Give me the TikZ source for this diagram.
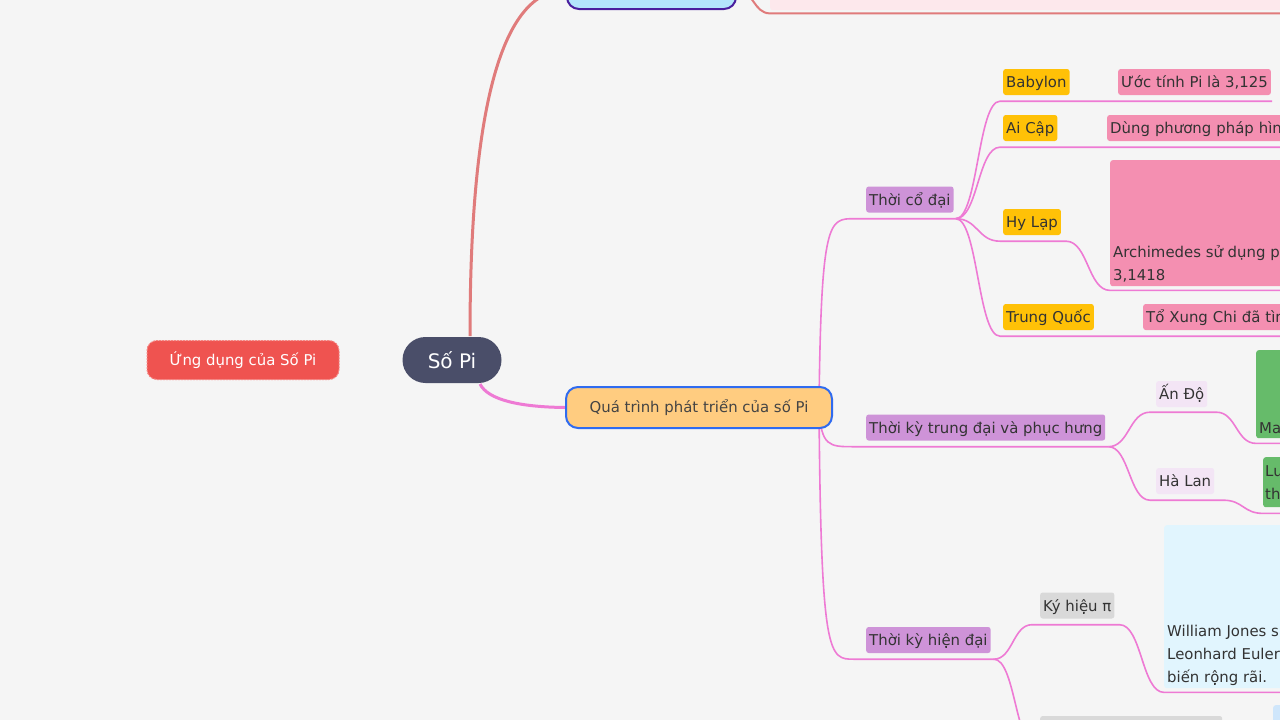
\documentclass[tikz,border=0pt]{standalone}
\usepackage{fontspec}
\setmainfont{DejaVu Sans}
\usetikzlibrary{calc,backgrounds}
\definecolor{canvas}{HTML}{F5F5F5}
\definecolor{rootbg}{HTML}{4A4E69}
\definecolor{appbg}{HTML}{EF5350}
\definecolor{appline}{HTML}{F58582}
\definecolor{histbg}{HTML}{FFCC80}
\definecolor{histline}{HTML}{2F6BF0}
\definecolor{histink}{HTML}{444444}
\definecolor{introbg}{HTML}{B3E5FC}
\definecolor{introline}{HTML}{4A1F9E}
\definecolor{introleaf}{HTML}{FDE8EC}
\definecolor{redline}{HTML}{E07B7B}
\definecolor{pinkline}{HTML}{EE7AD4}
\definecolor{erabg}{HTML}{CE93D8}
\definecolor{placebg}{HTML}{FFC107}
\definecolor{factbg}{HTML}{F48FB1}
\definecolor{lilacbg}{HTML}{F3E5F5}
\definecolor{greenbg}{HTML}{66BB6A}
\definecolor{greybg}{HTML}{D9D9D9}
\definecolor{cyanbg}{HTML}{E1F5FE}
\definecolor{bluebg}{HTML}{CFE6FB}
\definecolor{ink}{HTML}{333333}
\newcommand{\tagfont}{\fontsize{14.9}{17}\selectfont}
\newcommand{\notefont}{\fontsize{14.9}{23}\selectfont}
% underline ends of a tag: name-s, name-e
\newcommand{\under}[4]{%
  \coordinate (#1-s) at ([xshift=-#2pt,yshift=-#4pt]#1.south west);
  \coordinate (#1-e) at ([xshift=#3pt,yshift=-#4pt]#1.south east);}
\tikzset{
  topicbox/.style = {rounded corners=12pt, line width=2pt, font=\tagfont, inner sep=0pt,
                     minimum height=41pt},
  tagbox/.style   = {rounded corners=2.5pt, anchor=west, inner xsep=3pt, inner ysep=0pt,
                     minimum height=26pt, text height=13.5pt, text depth=2.5pt,
                     font=\tagfont, text=ink},
  card/.style     = {rounded corners=2.5pt, anchor=north west, inner sep=0pt},
  note/.style     = {anchor=south west, inner sep=0pt, align=left, font=\notefont, text=ink},
  br/.style       = {draw=pinkline, line width=1.6pt},
  redbr/.style    = {draw=redline, line width=2pt},
  rootbr/.style   = {line width=3pt},
  sbend/.style    = {to path={let \p1=(\tikztostart), \p2=(\tikztotarget) in
                      .. controls ({(\x1+\x2)/2},\y1) and ({(\x1+\x2)/2},\y2) .. (\tikztotarget)}},
  rise/.style     = {to path={let \p1=(\tikztostart), \p2=(\tikztotarget) in
                      .. controls ({\x1+2pt},\y2) and ({\x1+10pt},\y2) .. (\tikztotarget)}},
}
\begin{document}
\begin{tikzpicture}[x=1pt,y=-1pt]
  \useasboundingbox (0,0) rectangle (1280,720);
  % main topics
  \node[topicbox, fill=rootbg, text=white, font=\fontsize{20}{24}\selectfont,
        rounded corners=23pt, minimum width=99pt, minimum height=46pt] (root) at (452,360) {Số Pi};
  \node[topicbox, fill=appbg, draw=appline, densely dotted, line width=1pt, text=white,
        rounded corners=10pt, minimum width=192pt, minimum height=39pt] (app) at (243,360) {Ứng dụng của Số Pi};
  \node[topicbox, fill=histbg, draw=histline, text=histink, minimum width=266pt] (hist) at (699,407.5) {Quá trình phát triển của số Pi};
  \node[topicbox, fill=introbg, draw=introline, minimum width=169pt, minimum height=38pt] (intro) at (651.5,-10) {};
  \node[card, fill=introleaf, minimum width=530pt, minimum height=50pt] (introf) at (770,-40) {};
  % eras
  \node[tagbox, fill=erabg] (ancient) at (866,199.5) {Thời cổ đại};
  \node[tagbox, fill=erabg] (medieval) at (866,427.5) {Thời kỳ trung đại và phục hưng};
  \node[tagbox, fill=erabg] (modern) at (866,640) {Thời kỳ hiện đại};
  % ancient
  \node[tagbox, fill=placebg] (babylon) at (1003,82) {Babylon};
  \node[tagbox, fill=factbg] (babylonf) at (1118,82) {Ước tính Pi là 3,125};
  \node[tagbox, fill=placebg] (egypt) at (1003,128) {Ai Cập};
  \node[tagbox, fill=factbg, text width=200pt] (egyptf) at (1107,128) {Dùng phương pháp hìn};
  \node[tagbox, fill=placebg] (greece) at (1003,222) {Hy Lạp};
  \node[card, fill=factbg, minimum width=190pt, minimum height=126pt] (greecef) at (1110,160) {};
  \node[note] (greecet) at ([xshift=3pt,yshift=4pt]greecef.south west) {Archimedes sử dụng p\\3,1418};
  \node[tagbox, fill=placebg] (china) at (1003,317) {Trung Quốc};
  \node[tagbox, fill=factbg, text width=200pt] (chinaf) at (1143,317) {Tổ Xung Chi đã tìm};
  % medieval
  \node[tagbox, fill=lilacbg] (india) at (1156,394) {Ấn Độ};
  \node[card, fill=greenbg, minimum width=50pt, minimum height=88pt] (indiaf) at (1256,350) {};
  \node[note] (indiat) at ([xshift=3pt,yshift=4pt]indiaf.south west) {Ma};
  \node[tagbox, fill=lilacbg] (holland) at (1156,481) {Hà Lan};
  \node[card, fill=greenbg, minimum width=40pt, minimum height=50pt] (hollandf) at (1263,457) {};
  \node[note] (hollandt) at ([xshift=2pt,yshift=8pt]hollandf.south west) {Lu\\th};
  % modern
  \node[tagbox, fill=greybg] (symbol) at (1040,605.5) {Ký hiệu π};
  \node[card, fill=cyanbg, minimum width=140pt, minimum height=163pt] (symbolf) at (1164,525) {};
  \node[note] (symbolt) at ([xshift=3pt,yshift=3pt]symbolf.south west) {William Jones s\\Leonhard Euler\\biến rộng rãi.};
  \node[tagbox, fill=greybg, minimum width=182pt] (digits) at (1040,729) {};
  \node[card, fill=bluebg, minimum width=30pt, minimum height=40pt] (digitsf) at (1273,705) {};
  % underline points
  \under{introf}{0}{0}{3}
  \coordinate (histO) at ([xshift=-14pt]hist.east);
  \under{ancient}{12}{2}{6} \under{medieval}{12}{3}{6} \under{modern}{12}{3}{6}
  \under{babylon}{3}{0}{6} \under{babylonf}{0}{1}{6}
  \under{egypt}{3}{0}{6} \under{egyptf}{0}{0}{6}
  \under{greece}{3}{5}{6} \under{greecef}{0}{0}{4}
  \under{china}{3}{0}{6} \under{chinaf}{0}{0}{6}
  \under{india}{6}{9}{5} \under{indiaf}{0}{0}{5}
  \under{holland}{6}{9}{6} \under{hollandf}{0}{0}{6}
  \under{symbol}{8}{5}{6} \under{symbolf}{0}{0}{4}
  \under{digits}{3}{0}{6}
  \begin{scope}[on background layer]
    \fill[canvas] (0,0) rectangle (1280,720);
    \draw[rootbr, redline] ([xshift=18pt]root.north) .. controls (470,106) and (502,-10) .. (intro.west);
    \draw[rootbr, pinkline] ([xshift=28pt]root.south) .. controls (488,400) and (520,407) .. (hist.west);
    \draw[redbr] (intro.east) to[sbend] (introf-s) -- (introf-e);
    \draw[br] (histO) to[rise] (ancient-s) -- (ancient-e);
    \draw[br] (histO) to[rise] (medieval-s) -- (medieval-e);
    \draw[br] (histO) to[rise] (modern-s) -- (modern-e);
    \draw[br] (ancient-e) to[sbend] (babylon-s) -- (babylonf-e);
    \draw[br] (ancient-e) to[sbend] (egypt-s) -- (egyptf-e);
    \draw[br] (ancient-e) to[sbend] (greece-s) -- (greece-e) to[sbend] (greecef-s) -- (greecef-e);
    \draw[br] (ancient-e) to[sbend] (china-s) -- (chinaf-e);
    \draw[br] (medieval-e) to[sbend] (india-s) -- (india-e) to[sbend] (indiaf-s) -- (indiaf-e);
    \draw[br] (medieval-e) to[sbend] (holland-s) -- (holland-e) to[sbend] (hollandf-s) -- (hollandf-e);
    \draw[br] (modern-e) to[sbend] (symbol-s) -- (symbol-e) to[sbend] (symbolf-s) -- (symbolf-e);
    \draw[br] (modern-e) to[sbend] (digits-s) -- (digits-e);
  \end{scope}
\end{tikzpicture}
\end{document}
